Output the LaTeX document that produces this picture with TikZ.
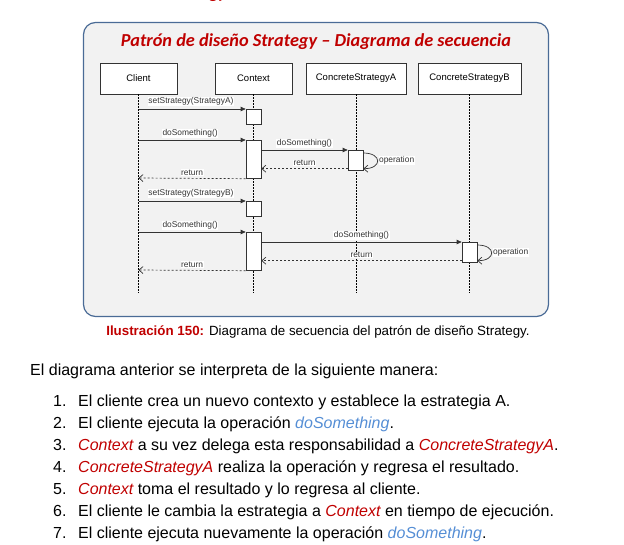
\documentclass[tikz,border=0pt]{standalone}
\usepackage{fontspec}
\setmainfont{Liberation Sans}
\newfontfamily\titlefont{Carlito}
\usetikzlibrary{arrows.meta}
\definecolor{dred}{HTML}{C00000}
\definecolor{lblue}{HTML}{558ED5}
\definecolor{frameblue}{HTML}{4A6B96}
\definecolor{panel}{HTML}{F2F2F2}
\definecolor{ln}{HTML}{333333}
\tikzset{
  actor/.style={draw=ln, fill=white, line width=0.7pt, minimum height=31pt, inner sep=0pt, font=\fontsize{9.5}{10}\selectfont},
  actbox/.style={draw=ln, fill=white, line width=0.7pt, minimum width=15pt, inner sep=0pt, anchor=north},
  life/.style={draw=black, line width=0.8pt, dash pattern=on 1.5pt off 1.5pt},
  msg/.style={draw=ln, line width=0.7pt, -{Triangle[length=5pt,width=4.5pt]}},
  ret/.style={draw=ln, line width=0.7pt, dash pattern=on 2pt off 2pt, -{Straight Barb[length=4pt,width=7pt]}},
  selfloop/.style={draw=ln, line width=0.7pt, -{Straight Barb[length=4pt,width=7pt]}},
  lbl/.style={fill=white, inner sep=0.6pt, font=\fontsize{8.4}{9}\selectfont, text=ln},
  body/.style={inner sep=0pt, font=\fontsize{16}{19}\selectfont, anchor=base west}
}
\begin{document}
\begin{tikzpicture}[x=1pt,y=-1pt]
\useasboundingbox (0,0) rectangle (624,544);
\begin{scope}
\clip (0,0) rectangle (624,544);
\node[anchor=base east, inner sep=0pt, text=dred, font=\titlefont\bfseries\fontsize{18}{20}\selectfont] (frag) at (226,-2) {Strategy};
\end{scope}
% panel
\node[draw=frameblue, fill=panel, line width=1.2pt, rounded corners=12pt, minimum width=465pt, minimum height=294pt, inner sep=0pt] (panel) at (316,169.5) {};
\node[inner sep=0pt, anchor=base, text=dred, font=\titlefont\bfseries\itshape\fontsize{18.3}{22}\selectfont] (title) at (316,46.5) {Patrón de diseño Strategy – Diagrama de secuencia};
% actors
\node[actor, minimum width=77pt] (client) at (138.5,78.5) {Client};
\node[actor, minimum width=77pt] (context) at (253.5,78.5) {Context};
\node[actor, minimum width=100pt] (csa) at (356,78.5) {ConcreteStrategyA};
\node[actor, minimum width=103pt] (csb) at (469.5,78.5) {ConcreteStrategyB};
% lifelines
\coordinate (clientE) at (138.5,293);
\coordinate (contextE) at (253.5,293);
\coordinate (csaE) at (356,293);
\coordinate (csbE) at (469.5,293);
\draw[life] (client.south) -- (clientE);
\draw[life] (context.south) -- (contextE);
\draw[life] (csa.south) -- (csaE);
\draw[life] (csb.south) -- (csbE);
% activation boxes
\node[actbox, minimum height=15pt] (b1) at (253.5,109) {};
\node[actbox, minimum height=38pt] (b2) at (253.5,140) {};
\node[actbox, minimum height=20pt] (s1) at (355.5,150) {};
\node[actbox, minimum height=15pt] (b3) at (253.5,201) {};
\node[actbox, minimum height=38pt] (b4) at (253.5,232) {};
\node[actbox, minimum height=20pt] (s2) at (469.5,242) {};
% client points
\coordinate (m1) at (138.5,109);
\coordinate (m2) at (138.5,140);
\coordinate (r2) at (138.5,178);
\coordinate (m3) at (138.5,201);
\coordinate (m4) at (138.5,232);
\coordinate (r4) at (138.5,270);
\coordinate (rs1) at ([yshift=2pt]s1.south west);
\coordinate (rs2) at ([yshift=2pt]s2.south west);
\coordinate (cs1) at ([yshift=-10pt]b2.north east);
\coordinate (cs2) at ([yshift=-10pt]b4.north east);
% messages first scenario
\draw[msg] (m1) -- (b1.north west) node[lbl, pos=0, anchor=south west, xshift=9pt, yshift=2.5pt] {setStrategy(StrategyA)};
\draw[msg] (m2) -- (b2.north west) node[lbl, midway, above=2pt, xshift=-2pt] {doSomething()};
\draw[msg] (cs1) -- (s1.north west) node[lbl, midway, above=2pt] {doSomething()};
\draw[selfloop] ([yshift=-3pt]s1.north east) .. controls +(19,0) and +(19,0) .. ([yshift=2pt]s1.south east);
\node[lbl, anchor=west] (op1) at ([xshift=15pt]s1.east) {operation};
\draw[ret] (rs1) -- (b2.east |- rs1) node[lbl, midway, above=2pt] {return};
\draw[ret] (b2.south west) -- (r2) node[lbl, midway, above=2pt] {return};
% second scenario
\draw[msg] (m3) -- (b3.north west) node[lbl, pos=0, anchor=south west, xshift=9pt, yshift=2.5pt] {setStrategy(StrategyB)};
\draw[msg] (m4) -- (b4.north west) node[lbl, midway, above=2pt, xshift=-2pt] {doSomething()};
\draw[msg] (cs2) -- (s2.north west) node[lbl, midway, above=2pt] {doSomething()};
\draw[selfloop] ([yshift=-3pt]s2.north east) .. controls +(19,0) and +(19,0) .. ([yshift=2pt]s2.south east);
\node[lbl, anchor=west] (op2) at ([xshift=15pt]s2.east) {operation};
\draw[ret] (rs2) -- (b4.east |- rs2) node[lbl, midway, above=2pt] {return};
\draw[ret] (b4.south west) -- (r4) node[lbl, midway, above=2pt] {return};
% caption
\node[inner sep=0pt, anchor=base, font=\fontsize{13.33}{15}\selectfont] (cap) at (318,335) {\textcolor{dred}{\bfseries Ilustración 150:} Diagrama de secuencia del patrón de diseño Strategy.};
\node[body] (intro) at (30,375) {El diagrama anterior se interpreta de la siguiente manera:};
% list
\foreach \n/\y in {1/406,2/428,3/450,4/472,5/494,6/516,7/538}{
  \node[body] (num\n) at (53,\y) {\n.};
}
\node[body] (l1) at (78,406) {El cliente crea un nuevo contexto y establece la estrategia A.};
\node[body] (l2) at (78,428) {El cliente ejecuta la operación \textcolor{lblue}{\itshape doSomething}.};
\node[body] (l3) at (78,450) {\textcolor{dred}{\itshape Context} a su vez delega esta responsabilidad a \textcolor{dred}{\itshape ConcreteStrategyA}.};
\node[body] (l4) at (78,472) {\textcolor{dred}{\itshape ConcreteStrategyA} realiza la operación y regresa el resultado.};
\node[body] (l5) at (78,494) {\textcolor{dred}{\itshape Context} toma el resultado y lo regresa al cliente.};
\node[body] (l6) at (78,516) {El cliente le cambia la estrategia a \textcolor{dred}{\itshape Context} en tiempo de ejecución.};
\node[body] (l7) at (78,538) {El cliente ejecuta nuevamente la operación \textcolor{lblue}{\itshape doSomething}.};
\end{tikzpicture}
\end{document}
